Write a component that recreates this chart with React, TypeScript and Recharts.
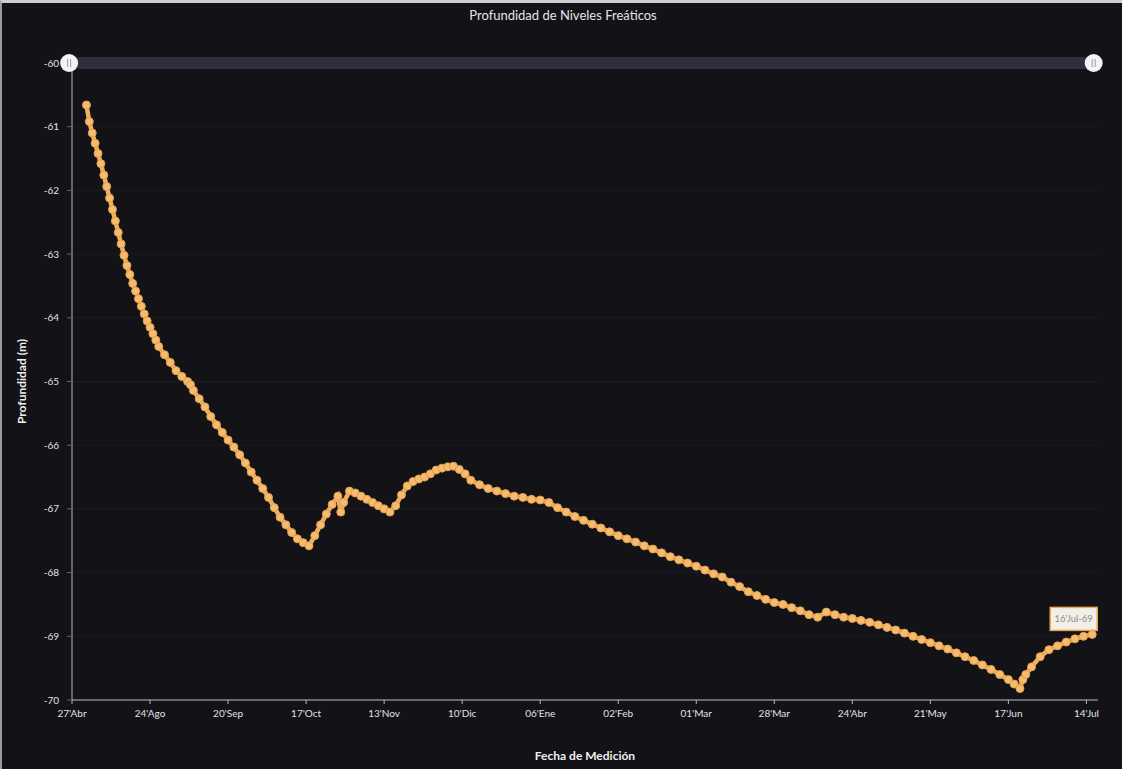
import React from 'react';
import {
  LineChart,
  Line,
  XAxis,
  YAxis,
  CartesianGrid,
  ReferenceLine,
  ReferenceDot,
  LabelList,
} from 'recharts';

// ticks del eje X (cada 27 dias)
const tickDias = [0, 27, 54, 81, 108, 135, 162, 189, 216, 243, 270, 297, 324, 351];
const tickFechas = [
  "27'Abr", "24'Ago", "20'Sep", "17'Oct", "13'Nov", "10'Dic", "06'Ene",
  "02'Feb", "01'Mar", "28'Mar", "24'Abr", "21'May", "17'Jun", "14'Jul",
];
const yTicks = [-70, -69, -68, -67, -66, -65, -64, -63, -62, -61, -60];

// mediciones (dia desde el primer tick, profundidad en m)
const dias = [
  5, 6, 7, 8, 9, 10, 11, 12, 13, 14, 15, 16, 17, 18, 19, 20, 21, 22, 23, 24, 25, 26, 27, 28, 29, 30,
  32, 34, 36, 38, 40, 41, 42, 44, 46, 48, 50, 52, 54, 56, 58, 60, 62, 64, 66, 68, 70, 72, 74, 76, 78, 80, 82,
  84, 86, 88, 90, 92, 93, 94, 96, 98, 100, 102, 104, 106, 108, 110, 112, 114, 116, 118, 120, 122, 124, 126,
  128, 130, 132, 134, 136, 138,
  141, 144, 147, 150, 153, 156, 159, 162, 165, 168, 171, 174, 177, 180, 183, 186, 189, 192, 195, 198, 201,
  204, 207, 210, 213, 216, 219, 222, 225, 228, 231, 234, 237, 240, 243, 246, 249, 252, 255, 258, 261, 264,
  267, 270, 273, 276, 279, 282, 285, 288, 291, 294, 297, 300, 303, 306, 309, 312, 315, 318, 321, 324, 326,
  328, 329, 330, 332, 335, 338, 341, 344, 347, 350, 353,
];
const profundidad = [
  -60.66, -60.92, -61.1, -61.26, -61.42, -61.58, -61.76, -61.94, -62.12, -62.3, -62.48, -62.66, -62.84,
  -63.02, -63.18, -63.32, -63.46, -63.58, -63.7, -63.82, -63.94, -64.05, -64.15, -64.25, -64.35, -64.45,
  -64.58, -64.7, -64.83, -64.92, -65.0, -65.05, -65.14, -65.27, -65.4, -65.55, -65.68, -65.8, -65.92,
  -66.03, -66.15, -66.28, -66.42, -66.55, -66.68, -66.82, -66.98, -67.13, -67.25, -67.37, -67.47, -67.53,
  -67.58,
  -67.42, -67.25, -67.08, -66.93, -66.8, -67.05, -66.9, -66.72, -66.75, -66.8, -66.85, -66.9, -66.95,
  -67.0, -67.05, -66.95, -66.78, -66.64, -66.57, -66.53, -66.5, -66.45, -66.39, -66.36, -66.34, -66.33,
  -66.38, -66.45, -66.55,
  -66.62, -66.68, -66.72, -66.76, -66.8, -66.82, -66.85, -66.86, -66.9, -66.98, -67.05, -67.12, -67.18,
  -67.24, -67.3, -67.36, -67.42, -67.47, -67.52, -67.58, -67.63, -67.69, -67.75, -67.8, -67.85, -67.9,
  -67.96, -68.02, -68.07, -68.15, -68.22, -68.3, -68.36, -68.42, -68.47, -68.5, -68.55, -68.6, -68.66,
  -68.7, -68.62, -68.66, -68.7, -68.72, -68.75, -68.78, -68.82, -68.86, -68.9, -68.95, -69.0, -69.05,
  -69.1, -69.15, -69.2, -69.26, -69.32, -69.38, -69.45, -69.52, -69.6, -69.68, -69.75, -69.82, -69.68,
  -69.6, -69.48, -69.32, -69.21, -69.15, -69.09, -69.04, -69.0, -68.97,
];
const ultimaEtiqueta = "16'Jul-69";

const data = dias.map((d, i) => ({ dia: d, profundidad: profundidad[i] }));

const font = 'Lato, "Noto Sans", sans-serif';

const Handle = (props: any) => {
  const { cx, cy } = props;
  return (
    <g>
      <circle cx={cx} cy={cy} r={9} fill="#f4f4f4" />
      <line x1={cx - 1.5} y1={cy - 4} x2={cx - 1.5} y2={cy + 4} stroke="#999" strokeWidth={1} />
      <line x1={cx + 1.5} y1={cy - 4} x2={cx + 1.5} y2={cy + 4} stroke="#999" strokeWidth={1} />
    </g>
  );
};

const UltimaLabel = (props: any) => {
  const { x, y, index } = props;
  if (index !== data.length - 1) return null;
  return (
    <g>
      <rect x={x - 42} y={y - 27} width={47} height={23} fill="#f3efe8" stroke="#e9a650" strokeWidth={1.5} />
      <text x={x - 18.5} y={y - 12} textAnchor="middle" fontSize={9.5} fill="#8c8c8c" fontFamily={font}>
        {ultimaEtiqueta}
      </text>
    </g>
  );
};

export default function App() {
  return (
    <div
      style={{
        position: 'absolute',
        left: 0,
        top: 0,
        width: 1122,
        height: 769,
        background: '#121217',
        borderTop: '3px solid #cfcfd2',
        borderLeft: '2px solid #9a9aa0',
        boxSizing: 'border-box',
        fontFamily: font,
        overflow: 'hidden',
      }}
    >
      <div
        style={{
          position: 'absolute',
          top: 4,
          left: 0,
          width: 1122,
          textAlign: 'center',
          color: '#e4e4e4',
          fontSize: 13,
        }}
      >
        Profundidad de Niveles Freáticos
      </div>
      <div style={{ position: 'absolute', left: -2, top: -3 }}>
        <LineChart
          width={1122}
          height={769}
          data={data}
          margin={{ top: 63, right: 24, bottom: 5, left: 0 }}
        >
          <CartesianGrid horizontal vertical={false} stroke="#1c1c24" />
          <ReferenceLine y={-60} stroke="#2d2e3e" strokeWidth={12} ifOverflow="visible" />
          <XAxis
            type="number"
            dataKey="dia"
            domain={[0, 355]}
            ticks={tickDias}
            tickFormatter={(v: number) => tickFechas[tickDias.indexOf(v)]}
            tick={{ fontSize: 10, fill: '#e2e2e2', fontFamily: font }}
            axisLine={{ stroke: '#b8b8bc' }}
            tickLine={{ stroke: '#b8b8bc' }}
            tickSize={4}
            tickMargin={6}
            height={64}
            label={{
              value: 'Fecha de Medición',
              position: 'insideBottom',
              offset: 4,
              fill: '#f0f0f0',
              fontSize: 12,
              fontWeight: 700,
              fontFamily: font,
            }}
          />
          <YAxis
            type="number"
            domain={[-70, -60]}
            ticks={yTicks}
            tick={{ fontSize: 10, fill: '#e2e2e2', fontFamily: font }}
            axisLine={{ stroke: '#b8b8bc' }}
            tickLine={{ stroke: '#6a6a70' }}
            tickSize={5}
            tickMargin={8}
            width={72}
            label={{
              value: 'Profundidad (m)',
              angle: -90,
              position: 'insideLeft',
              offset: 22,
              fill: '#f0f0f0',
              fontSize: 12,
              fontWeight: 700,
              fontFamily: font,
              style: { textAnchor: 'middle' },
            }}
          />
          <ReferenceDot x={-1} y={-60} ifOverflow="visible" shape={<Handle />} />
          <ReferenceDot x={353.5} y={-60} ifOverflow="visible" shape={<Handle />} />
          <Line
            type="linear"
            dataKey="profundidad"
            stroke="#f0b262"
            strokeWidth={4.5}
            dot={{ r: 4, fill: '#f5bb6e', stroke: '#e39d4a', strokeWidth: 1 }}
            isAnimationActive={false}
          >
            <LabelList dataKey="profundidad" content={<UltimaLabel />} />
          </Line>
        </LineChart>
      </div>
    </div>
  );
}
